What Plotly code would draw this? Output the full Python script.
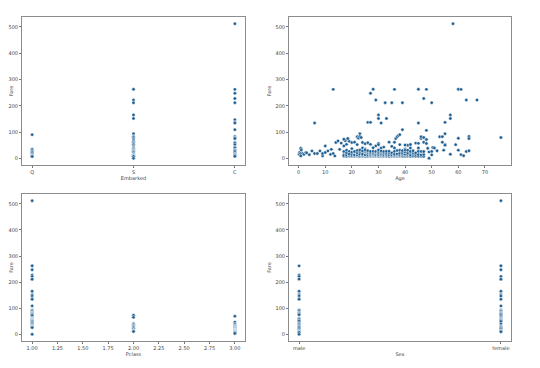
import plotly.graph_objects as go

# ---------------- data ----------------
# Embarked vs Fare
embarked_Q = [90.0, 34.4, 29.1, 24.2, 21.1, 15.5, 12.4, 7.75, 7.7, 7.8, 7.6, 8.1, 6.9]
embarked_S = [263.0, 221.8, 211.3, 164.9, 151.6, 93.5, 82.3, 81.9, 78.9, 73.5, 69.6, 65.0,
              61.2, 57.8, 53.1, 51.9, 46.9, 42.5, 39.7, 37.0, 34.4, 31.5, 29.1, 26.6, 26.0,
              24.2, 21.0, 16.1, 14.5, 13.0, 10.5, 8.05, 7.9, 7.25, 0.0]
embarked_C = [512.3, 262.4, 247.5, 227.5, 211.5, 146.5, 136.8, 134.5, 108.9, 83.2, 79.2,
              76.3, 75.2, 61.4, 59.4, 57.8, 51.5, 41.6, 39.6, 31.7, 29.7, 27.7, 22.4, 15.2,
              14.5, 13.9, 12.0, 7.2, 7.9]
embarked_labels = ["Q", "S", "C"]

# Pclass vs Fare
pclass_1 = [512.3, 263.0, 262.4, 247.5, 227.5, 221.8, 211.5, 211.3, 164.9, 151.6, 146.5,
            136.8, 134.5, 108.9, 93.5, 90.0, 89.1, 83.2, 82.3, 81.9, 79.2, 78.9, 76.3, 75.2,
            71.3, 61.4, 60.0, 59.4, 57.8, 56.5, 55.4, 53.1, 52.6, 51.9, 50.5, 49.5, 47.1,
            42.5, 39.6, 35.5, 31.7, 30.5, 29.7, 28.5, 27.7, 26.6, 26.0, 25.9, 0.0]
pclass_2 = [73.5, 65.0, 41.6, 39.0, 37.0, 33.0, 31.5, 29.0, 26.0, 23.0, 21.0, 15.0, 14.5,
            13.9, 13.0, 12.7, 10.5]
pclass_3 = [69.6, 46.9, 39.7, 34.4, 31.4, 29.1, 27.9, 25.5, 24.2, 23.5, 22.0, 21.1, 20.6,
            20.2, 19.3, 16.7, 16.1, 15.9, 15.5, 15.2, 14.5, 13.8, 12.5, 12.3, 11.5, 9.8,
            9.5, 9.2, 8.7, 8.05, 7.9, 7.75, 7.7, 7.25, 7.05, 6.95, 6.5, 3.2]

# Sex vs Fare
sex_male = [262.4, 227.5, 221.8, 211.5, 164.9, 151.6, 146.5, 136.8, 134.5, 93.5, 90.0,
            83.2, 82.3, 79.2, 76.3, 75.2, 61.2, 57.8, 53.1, 50.5, 42.5, 39.6, 35.5, 30.5,
            29.7, 26.6, 26.0, 21.0, 15.5, 13.0, 10.5, 8.05, 7.75, 7.25, 0.0]
sex_female = [512.3, 263.0, 262.4, 247.5, 221.8, 211.5, 211.3, 164.9, 151.6, 146.5, 134.5,
              108.9, 93.5, 90.0, 89.1, 83.2, 82.3, 79.2, 78.9, 76.3, 75.2, 69.6, 65.0,
              61.4, 59.4, 57.8, 55.4, 53.1, 51.9, 49.5, 39.7, 31.4, 27.7, 26.0, 23.0, 21.0,
              15.2, 13.0, 10.5, 9.8]

# Age vs Fare
age_values = [
    # high fares
    13, 58, 27, 28, 29, 32.5, 35, 36, 39, 45, 48, 47, 50, 60, 61, 63, 67,
    6, 26, 27, 30, 30, 31, 33, 45, 55, 57, 57, 39, 48, 76,
    # children
    0.3, 0.8, 0.2, 0.7, 1.5, 2, 2.7, 0.8, 1, 5, 6, 7, 8, 9, 9, 10, 11, 12, 12.3, 13,
    13.6, 14, 14.8, 15.4, 10, 4, 3,
    # upper band 16-48
    17, 18, 18, 17.5, 17, 16, 19, 18.5, 20, 21, 22, 22.5, 23, 23, 23.5, 22, 24, 25, 26,
    24, 25, 27, 29, 30, 30, 28, 31, 32, 36, 36.5, 37, 37.5, 38, 38, 36, 35, 34, 40, 41,
    42, 44, 42, 40, 45, 45, 46, 46, 47, 47, 48, 48,
    # older
    49, 49, 50, 48.5, 50, 50.4, 51, 52, 53, 54, 54, 55, 55, 54.5, 55, 57, 59, 60, 60,
    61, 62, 63, 64, 64, 64,
    # dense band
    17, 17, 17, 17,
    18, 18, 18, 18, 18,
    19, 19, 19, 19, 19,
    20, 20, 20, 20, 20, 20,
    21, 21, 21, 21, 21, 21,
    22, 22, 22, 22, 22, 22,
    23, 23, 23, 23, 23, 23,
    24, 24, 24, 24, 24, 24,
    25, 25, 25, 25, 25, 25,
    26, 26, 26, 26, 26, 26, 26,
    27, 27, 27, 27, 27, 27, 27,
    28, 28, 28, 28, 28, 28, 28,
    29, 29, 29, 29, 29, 29, 29,
    30, 30, 30, 30, 30, 30, 30, 30,
    31, 31, 31, 31, 31, 31, 31,
    32, 32, 32, 32, 32, 32,
    33, 33, 33, 33, 33, 33,
    34, 34, 34, 34, 34,
    35, 35, 35, 35, 35,
    36, 36, 36, 36, 36,
    37, 37, 37, 37, 37,
    38, 38, 38, 38, 38, 38,
    39, 39, 39, 39, 39, 39,
    40, 40, 40, 40, 40, 40,
    41, 41, 41, 41, 41,
    42, 42, 42, 42, 42,
    43, 43, 43, 43,
    44, 44, 44,
    45, 45, 45,
    46, 46, 46,
    47, 47, 47,
]
age_fares = [
    # high fares
    262.4, 512.3, 247.5, 263.0, 221.8, 211.5, 211.5, 262.4, 211.3, 263.0, 262.4, 227.5,
    211.5, 263.0, 262.4, 221.8, 221.8,
    134.5, 136.8, 136.8, 164.9, 151.6, 134.5, 151.6, 134.5, 136.8, 151.6, 164.9, 108.9,
    106.4, 78.9,
    # children
    22.0, 38.0, 15.0, 18.0, 18.0, 15.0, 22.0, 9.0, 31.4, 28.0, 18.0, 18.0, 28.0, 9.0,
    18.0, 47.0, 28.0, 15.0, 34.0, 18.0, 9.0, 60.0, 66.0, 34.0, 22.0, 13.8, 21.0,
    # upper band 16-48
    47.0, 53.1, 72.0, 66.6, 72.5, 57.8, 65.0, 75.2, 60.0, 61.4, 82.3, 76.7, 93.5, 83.2,
    79.2, 52.0, 60.0, 55.4, 59.4, 39.0, 35.5, 53.1, 47.1, 56.9, 51.9, 40.0, 39.6, 42.5,
    61.2, 75.2, 81.9, 86.5, 90.0, 52.0, 39.4, 45.5, 61.4, 35.5, 49.5, 52.6, 57.75, 39.0,
    50.5, 39.0, 56.9, 75.2, 81.9, 79.2, 61.2, 71.3, 56.5,
    # older
    24.2, 0.0, 26.0, 38.0, 13.0, 41.0, 39.4, 28.5, 81.9, 82.3, 61.2, 53.1, 93.5, 31.0,
    50.0, 15.5, 51.9, 76.3, 31.0, 13.8, 9.7, 26.0, 28.5, 83.2, 75.2,
    # dense band
    7.9, 14.5, 10.5, 26.0,
    7.8, 8.05, 13.0, 21.0, 31.0,
    7.9, 8.05, 10.5, 26.0, 16.1,
    7.2, 7.9, 9.2, 14.5, 23.0, 36.75,
    7.75, 8.05, 11.5, 13.0, 24.2, 26.0,
    7.8, 8.7, 10.5, 13.0, 21.0, 30.0,
    7.55, 8.05, 13.8, 15.5, 26.0, 31.5,
    7.5, 8.05, 9.5, 13.0, 16.1, 27.7,
    7.65, 7.9, 12.3, 13.0, 26.0, 31.0,
    7.85, 8.05, 14.4, 13.0, 20.6, 26.0, 29.0,
    7.25, 8.05, 10.5, 13.0, 18.0, 21.0, 26.3,
    7.9, 8.7, 9.5, 13.0, 16.0, 22.0, 26.5,
    7.75, 8.05, 10.2, 13.0, 19.5, 24.0, 26.0,
    7.2, 7.9, 9.8, 13.0, 14.5, 21.0, 26.0, 31.4,
    7.75, 8.05, 11.0, 13.0, 18.5, 23.0, 27.7,
    7.9, 8.05, 10.5, 13.5, 20.0, 26.0,
    7.6, 8.65, 12.4, 14.1, 20.2, 26.6,
    6.5, 8.05, 13.0, 21.0, 26.55,
    7.1, 8.05, 10.2, 13.0, 20.5,
    7.5, 9.5, 12.9, 15.9, 26.4,
    7.9, 8.7, 13.0, 16.1, 29.7,
    7.25, 8.7, 10.5, 13.4, 18.9, 30.7,
    7.8, 8.9, 13.4, 16.7, 21.2, 29.1,
    7.2, 8.05, 13.5, 15.2, 24.2, 31.2,
    7.9, 11.1, 15.5, 20.2, 30.5,
    7.65, 8.05, 13.0, 22.4, 26.2,
    8.05, 14.5, 21.0, 28.5,
    7.9, 13.8, 20.6,
    7.75, 14.5, 26.55,
    7.3, 13.0, 26.0,
    7.05, 14.45, 25.6,
]

sex_labels = ["male", "female"]
y_ticks = [0, 100, 200, 300, 400, 500]

# ---------------- figure ----------------
marker = dict(size=3.4, color="#1f5f92", line=dict(color="white", width=0.5))
fig = go.Figure()

# top-left: Embarked
for lab, vals in zip(embarked_labels, [embarked_Q, embarked_S, embarked_C]):
    fig.add_trace(go.Scatter(x=[lab] * len(vals), y=vals, mode="markers", marker=marker,
                             xaxis="x", yaxis="y", showlegend=False))
# top-right: Age
fig.add_trace(go.Scatter(x=age_values, y=age_fares, mode="markers", marker=marker,
                         xaxis="x2", yaxis="y2", showlegend=False))
# bottom-left: Pclass
for cls, vals in zip([1, 2, 3], [pclass_1, pclass_2, pclass_3]):
    fig.add_trace(go.Scatter(x=[cls] * len(vals), y=vals, mode="markers", marker=marker,
                             xaxis="x3", yaxis="y3", showlegend=False))
# bottom-right: Sex
for lab, vals in zip(sex_labels, [sex_male, sex_female]):
    fig.add_trace(go.Scatter(x=[lab] * len(vals), y=vals, mode="markers", marker=marker,
                             xaxis="x4", yaxis="y4", showlegend=False))

W, H = 540, 368
OFF = 8  # page body margin offset in the browser
def fx(p): return (p - OFF) / W
def fy(p): return 1 - (p - OFF) / H

spine = "#8c8c8c"
tickfont = dict(family="DejaVu Sans", size=5, color="#444")
titlefont = dict(family="DejaVu Sans", size=5, color="#444")
common = dict(showline=True, linecolor=spine, linewidth=1, mirror=True, showgrid=False,
              zeroline=False, ticks="outside", ticklen=2, tickcolor="#777", tickwidth=0.6,
              tickfont=tickfont, automargin=False)

yr = [-25.6, 537.9]
lay = dict(
    xaxis=dict(domain=[fx(22), fx(245)], anchor="y", type="category",
               categoryorder="array", categoryarray=embarked_labels, range=[-0.1, 2.1],
               title=dict(text="Embarked", font=titlefont, standoff=2), **common),
    yaxis=dict(domain=[fy(165), fy(17)], anchor="x", range=yr, tickvals=y_ticks,
               title=dict(text="Fare", font=titlefont, standoff=3), **common),
    xaxis2=dict(domain=[fx(289), fx(511)], anchor="y2", range=[-3.62, 79.79], dtick=10,
                title=dict(text="Age", font=titlefont, standoff=2), **common),
    yaxis2=dict(domain=[fy(165), fy(17)], anchor="x2", range=yr, tickvals=y_ticks,
                title=dict(text="Fare", font=titlefont, standoff=3), **common),
    xaxis3=dict(domain=[fx(22), fx(245)], anchor="y3", range=[0.9, 3.1], dtick=0.25,
                tickformat=".2f",
                title=dict(text="Pclass", font=titlefont, standoff=2), **common),
    yaxis3=dict(domain=[fy(341), fy(194)], anchor="x3", range=yr, tickvals=y_ticks,
                title=dict(text="Fare", font=titlefont, standoff=3), **common),
    xaxis4=dict(domain=[fx(289), fx(511)], anchor="y4", type="category",
                categoryorder="array", categoryarray=sex_labels, range=[-0.05, 1.05],
                title=dict(text="Sex", font=titlefont, standoff=2), **common),
    yaxis4=dict(domain=[fy(341), fy(194)], anchor="x4", range=yr, tickvals=y_ticks,
                title=dict(text="Fare", font=titlefont, standoff=3), **common),
)
fig.update_layout(width=W, height=H, margin=dict(l=0, r=0, t=0, b=0),
                  paper_bgcolor="white", plot_bgcolor="white", **lay)

fig.write_html("out.html")
